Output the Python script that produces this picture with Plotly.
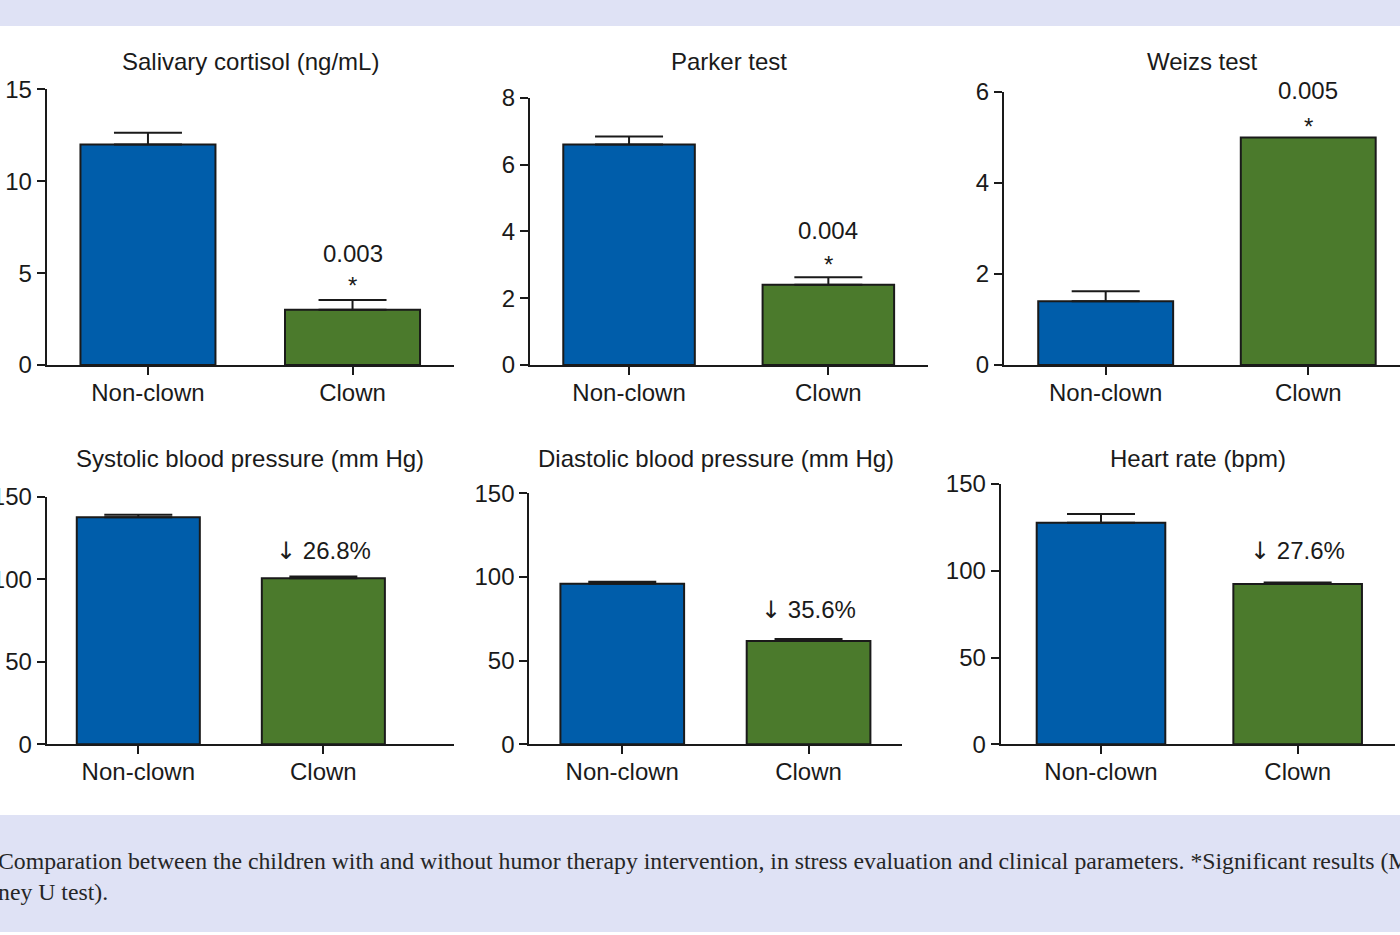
import plotly.graph_objects as go

# ---------------- data ----------------
categories = ["Non-clown", "Clown"]

cortisol_mean = [12.0, 3.0]
cortisol_err = [0.63, 0.53]

parker_mean = [6.6, 2.4]
parker_err = [0.24, 0.23]

weizs_mean = [1.4, 5.0]
weizs_err = [0.22, 0.0]

systolic_mean = [137.5, 100.6]
systolic_err = [1.5, 1.1]

diastolic_mean = [96.0, 61.8]
diastolic_err = [1.2, 1.1]

heart_mean = [127.7, 92.4]
heart_err = [5.0, 0.8]

titles = ["Salivary cortisol (ng/mL)", "Parker test", "Weizs test",
          "Systolic blood pressure (mm Hg)", "Diastolic blood pressure (mm Hg)", "Heart rate (bpm)"]
y_max = [15, 8, 6, 150, 150, 150]
y_step = [5, 2, 2, 50, 50, 50]
p_values = ["0.003", "0.004", "0.005"]
reductions = ["26.8%", "35.6%", "27.6%"]

caption = ("Comparation between the children with and without humor therapy intervention, in stress "
           "evaluation and clinical parameters. *Significant results (M<br>ney U test).")

means = [cortisol_mean, parker_mean, weizs_mean, systolic_mean, diastolic_mean, heart_mean]
errs = [cortisol_err, parker_err, weizs_err, systolic_err, diastolic_err, heart_err]

# ---------------- layout geometry (pixels) ----------------
W, H = 1400, 935
BLUE = "#005DAA"
GREEN = "#4B7A2C"
INK = "#1a1a1a"
BAND = "#dfe2f5"
FONT = "Liberation Sans, Arial, sans-serif"

panels = [
    dict(xd=(46.7, 454), yd=(89.3, 365), xr=(-0.495, 1.496), bw=0.66, title_y=62, star=15),
    dict(xd=(530, 928), yd=(97.7, 365), xr=(-0.497, 1.50), bw=0.66, title_y=62, star=13),
    dict(xd=(1004, 1400), yd=(92, 365), xr=(-0.502, 1.453), bw=0.666, title_y=62, star=11),
    dict(xd=(46.7, 454), yd=(496.7, 744.3), xr=(-0.495, 1.706), bw=0.665, title_y=458),
    dict(xd=(529.3, 901.7), yd=(493.3, 744.3), xr=(-0.499, 1.50), bw=0.664, title_y=458),
    dict(xd=(1000.7, 1395), yd=(484, 744.3), xr=(-0.51, 1.495), bw=0.654, title_y=458),
]
pct_shift = [25, 29, 32]


def px_x(p):
    return p / W


def px_y(p):
    return 1 - p / H


fig = go.Figure()
annotations = []
layout_axes = {}

for i, pan in enumerate(panels):
    n = i + 1
    xa = "x" if n == 1 else f"x{n}"
    ya = "y" if n == 1 else f"y{n}"
    colors = [BLUE, GREEN]
    for j, cat in enumerate(categories):
        e = errs[i][j]
        fig.add_trace(go.Bar(
            x=[cat], y=[means[i][j]], width=[pan["bw"]],
            xaxis=xa, yaxis=ya,
            marker=dict(color=colors[j], line=dict(color=INK, width=2)),
            error_y=dict(type="data", array=[e], arrayminus=[0], symmetric=False,
                         visible=e > 0, color=INK, thickness=2, width=34),
            hoverinfo="skip", showlegend=False,
        ))

    layout_axes["xaxis" if n == 1 else f"xaxis{n}"] = dict(
        domain=[px_x(pan["xd"][0]), px_x(pan["xd"][1])],
        anchor=ya, type="category", categoryorder="array", categoryarray=categories,
        range=list(pan["xr"]), showline=True, linecolor=INK, linewidth=2,
        ticks="outside", ticklen=8, tickwidth=2, tickcolor=INK, ticklabelstandoff=-3,
        showgrid=False, zeroline=False, fixedrange=True, automargin=False,
        tickfont=dict(family=FONT, size=24, color=INK),
    )
    layout_axes["yaxis" if n == 1 else f"yaxis{n}"] = dict(
        domain=[px_y(pan["yd"][1]), px_y(pan["yd"][0])],
        anchor=xa, range=[0, y_max[i]], tick0=0, dtick=y_step[i],
        showline=True, linecolor=INK, linewidth=2,
        ticks="outside", ticklen=8, tickwidth=2, tickcolor=INK,
        showgrid=False, zeroline=False, fixedrange=True, automargin=False,
        tickfont=dict(family=FONT, size=24, color=INK),
    )

    # panel title
    annotations.append(dict(
        text=titles[i], xref="paper", yref="paper",
        x=px_x((pan["xd"][0] + pan["xd"][1]) / 2), y=px_y(pan["title_y"]),
        xanchor="center", yanchor="middle", showarrow=False,
        font=dict(family=FONT, size=24, color=INK),
    ))

    top = means[i][1] + errs[i][1]
    if i < 3:
        annotations.append(dict(
            text=p_values[i], xref=xa, yref=ya, x="Clown", y=top,
            xanchor="center", yanchor="middle", yshift=47, showarrow=False,
            font=dict(family=FONT, size=24, color=INK),
        ))
        annotations.append(dict(
            text="*", xref=xa, yref=ya, x="Clown", y=top,
            xanchor="center", yanchor="middle", yshift=pan["star"], showarrow=False,
            font=dict(family=FONT, size=24, color=INK),
        ))
    else:
        annotations.append(dict(
            text='<span style="font-family:DejaVu Sans">\u2193</span> ' + reductions[i - 3],
            xref=xa, yref=ya, x="Clown", y=top,
            xanchor="center", yanchor="middle", yshift=pct_shift[i - 3], showarrow=False,
            font=dict(family=FONT, size=24, color=INK),
        ))

# caption
annotations.append(dict(
    text=caption, xref="paper", yref="paper", x=0, y=px_y(876),
    xanchor="left", yanchor="middle", xshift=-4, align="left", showarrow=False,
    font=dict(family="Liberation Serif, Times New Roman, serif", size=23.75, color="#262626"),
))

shapes = [
    dict(type="rect", xref="paper", yref="paper", x0=0, x1=1, y0=px_y(26), y1=1,
         fillcolor=BAND, line=dict(width=0), layer="below"),
    dict(type="rect", xref="paper", yref="paper", x0=0, x1=1, y0=px_y(932), y1=px_y(815),
         fillcolor=BAND, line=dict(width=0), layer="below"),
]

fig.update_layout(
    width=W, height=H, margin=dict(l=0, r=0, t=0, b=0, pad=0),
    paper_bgcolor="white", plot_bgcolor="rgba(0,0,0,0)",
    barmode="overlay", showlegend=False,
    annotations=annotations, shapes=shapes,
    **layout_axes,
)

fig.write_html(
    "out.html",
    config={"displayModeBar": False},
    post_script="document.body.style.margin='0px';document.body.style.overflow='hidden';",
)
